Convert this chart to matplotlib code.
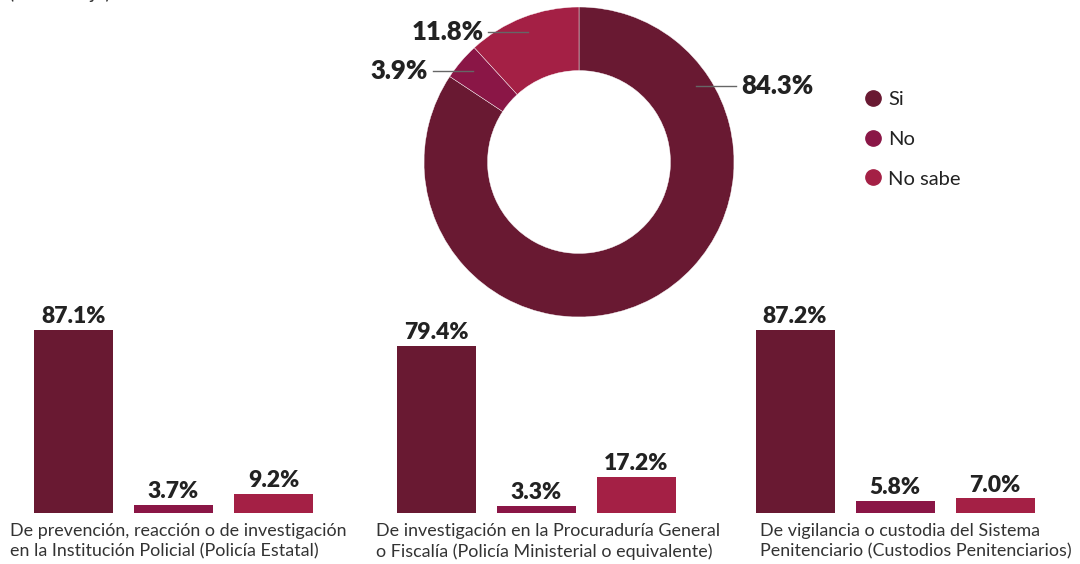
import matplotlib.pyplot as plt
import numpy as np
from matplotlib.lines import Line2D

plt.rcParams['font.family'] = ['Lato', 'DejaVu Sans']

# data
categories = ['Si', 'No', 'No sabe']
donut_values = [84.3, 3.9, 11.8]
group_labels = ['De prevención, reacción o de investigación\nen la Institución Policial (Policía Estatal)',
                'De investigación en la Procuraduría General\no Fiscalía (Policía Ministerial o equivalente)',
                'De vigilancia o custodia del Sistema\nPenitenciario (Custodios Penitenciarios)']
policia_estatal = [87.1, 3.7, 9.2]
policia_ministerial = [79.4, 3.3, 17.2]
custodios = [87.2, 5.8, 7.0]
colors = ['#691932', '#8A1646', '#A42045']
text_col = '#222222'

W, H = 1080, 564
fig = plt.figure(figsize=(W / 100, H / 100), dpi=100)

# subtitle, cut off at the top edge like in the source
fig.text(8 / W, 1 + 0.5 / H, '(Porcentaje).', fontsize=14, color='#333333',
         ha='left', va='baseline')

'''donut:'''
R = 155
ax = fig.add_axes([(579 - R) / W, (H - 162 - R) / H, 2 * R / W, 2 * R / H])
wedges, _ = ax.pie(donut_values, colors=colors, startangle=90, counterclock=False,
                   radius=1, wedgeprops=dict(width=0.41, edgecolor='white', linewidth=0.3))
ax.set_xlim(-1, 1)
ax.set_ylim(-1, 1)
ax.set_aspect('equal')
ax.axis('off')

# label anchor angles (Si label sits upper right, others at wedge middle)
anchors = [33, None, None]
for w, v, a in zip(wedges, donut_values, anchors):
    ang = a if a is not None else (w.theta1 + w.theta2) / 2
    r = 0.9
    x0, y0 = r * np.cos(np.radians(ang)), r * np.sin(np.radians(ang))
    side = 1 if x0 > 0 else -1
    x1 = x0 + side * 0.26
    ax.plot([x0, x1], [y0, y0], color='#666666', lw=1, clip_on=False)
    ax.text(x1 + side * 0.03, y0, f'{v:.1f}%', fontsize=18.5, fontweight='heavy',
            color=text_col, ha='left' if side > 0 else 'right', va='center')

# legend
handles = [Line2D([], [], marker='o', ls='', markersize=11, markerfacecolor=c,
                  markeredgecolor=c) for c in colors]
fig.legend(handles, categories, loc='upper left', bbox_to_anchor=(845 / W, 1 - 73 / H),
           frameon=False, fontsize=14.5, handletextpad=0.25, labelspacing=1.12,
           handlelength=1.0, labelcolor=text_col)

'''bars:'''
groups = [policia_estatal, policia_ministerial, custodios]
group_left = [23.5, 386.5, 745]
label_x = [10, 376, 760]
base = 513
for vals, gl, lx, lab in zip(groups, group_left, label_x, group_labels):
    bx = fig.add_axes([gl / W, (H - base) / H, 300 / W, 210 / H])
    x = np.arange(len(vals))
    bx.bar(x, vals, width=0.79, color=colors)
    for xi, v in zip(x, vals):
        bx.annotate(f'{v:.1f}%', (xi, v), xytext=(0, 2), textcoords='offset points',
                    ha='center', va='bottom', fontsize=16.5, fontweight='heavy',
                    color=text_col)
    bx.set_xlim(-0.5, 2.5)
    bx.set_ylim(0, 100)
    bx.axis('off')
    fig.text(lx / W, 1 - 523 / H, lab, fontsize=12.9, color='#333333', ha='left',
             va='top', linespacing=1.33)

plt.savefig('out.png', dpi=100)
